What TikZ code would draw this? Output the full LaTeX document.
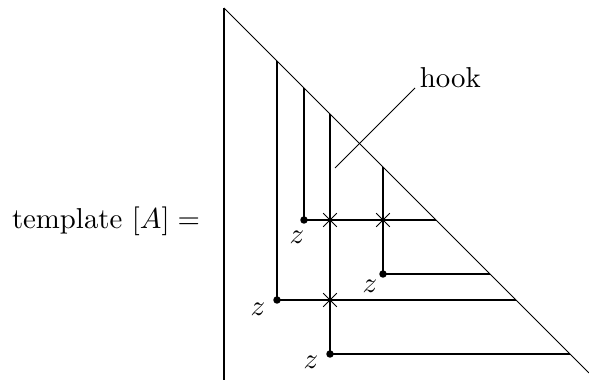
\documentclass[tikz,border=0pt]{standalone}
\usetikzlibrary{shapes.misc}
\begin{document}
\begin{tikzpicture}[
        x=0.3472pt,
        y=-0.3472pt,
        axis line/.style={black,line width=0.55pt},
        diag line/.style={black,line width=0.35pt},
        thin hook/.style={black,line width=0.55pt},
        thick hook/.style={black,line width=0.85pt},
        corner dot/.style={circle,fill=black,minimum size=2.6pt,inner sep=0pt},
        cross mark/.style={cross out,draw=black,line width=0.35pt,minimum size=4.4pt,inner sep=0pt},
        z label/.style={inner sep=0pt}
    ]
        \useasboundingbox (0,0) rectangle (589,380);

        \coordinate (origin) at (224,8);
        \coordinate (axisend) at (224,380);
        \coordinate (diagend) at (589,373);
        \draw[axis line] (origin) -- (axisend);
        \draw[diag line] (origin) -- (diagend);

        \node (lhs) at (106,221) {template $[A] =$};

        % hooks: corner, top end and right end both on the diagonal
        \foreach \cx/\cy/\st/\n in {277/300/thick hook/a,304/220/thin hook/b,330/354/thick hook/c,383/274/thin hook/d} {
            \pgfmathsetmacro{\topy}{\cx-216}
            \pgfmathsetmacro{\rightx}{\cy+216}
            \coordinate (top\n) at (\cx,\topy);
            \coordinate (right\n) at (\rightx,\cy);
            \node[corner dot] (dot\n) at (\cx,\cy) {};
            \draw[\st] (top\n) -- (dot\n.center);
            \draw[thin hook] (dot\n.center) -- (right\n);
        }

        \foreach \px/\py/\n in {330/220/1,383/220/2,330/300/3} {
            \node[cross mark] (cross\n) at (\px,\py) {};
        }

        \node[z label] (zb) at (297,237) {$z$};
        \node[z label] (za) at (258,309) {$z$};
        \node[z label] (zd) at (370,286) {$z$};
        \node[z label] (zc) at (311,362) {$z$};

        \coordinate (hookfoot) at (335,168);
        \node[anchor=base west,inner sep=1.5pt] (hooktext) at (415,88) {hook};
        \draw[diag line] (hookfoot) -- (hooktext.base west);
    \end{tikzpicture}
\end{document}
